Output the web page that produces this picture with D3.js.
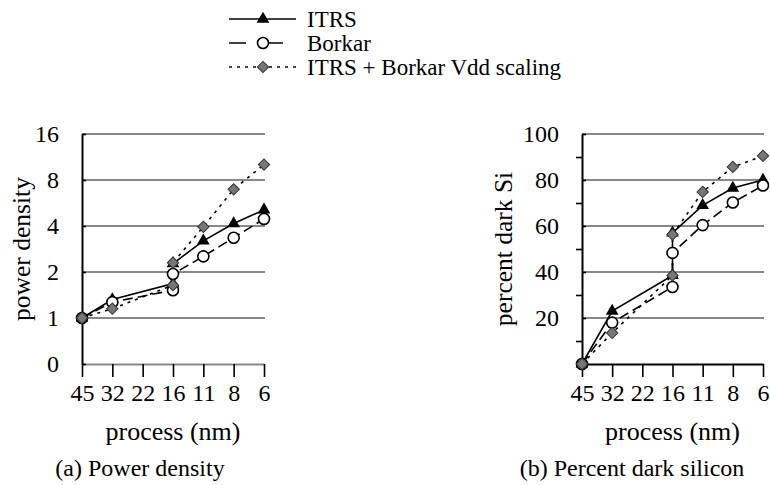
<!DOCTYPE html>
<html>
<head>
<meta charset="utf-8">
<script src="https://cdn.jsdelivr.net/npm/d3@7"></script>
<style>
  body { margin: 0; background: #fff; }
  .tick text { font-size: 24px; fill: #000; }
</style>
</head>
<body>
<svg id="chart" width="770" height="485" font-family="Liberation Serif"></svg>
<script>
// processos (nm) - eixo x
const processos = ["45", "32", "22", "16", "11", "8", "6"];
// cada série tem dois pontos em 16 nm (antes e depois da mudança)
const pontosX = ["45", "32", "16", "16", "11", "8", "6"];

// (a) densidade de potência (escala log2)
const densITRS   = [1, 1.32, 1.68, 2.27, 3.2, 4.15, 5.1];
const densBorkar = [1, 1.27, 1.52, 1.94, 2.53, 3.35, 4.45];
const densAmbos  = [1, 1.15, 1.64, 2.3, 3.95, 6.95, 10.1];
const ticksDens  = [0.5, 1, 2, 4, 8, 16];
const rotulosDens = ["0", "1", "2", "4", "8", "16"];

// (b) percentual de silício escuro
const escuroITRS   = [0, 23, 38.5, 57, 69, 76.5, 80];
const escuroBorkar = [0, 18, 33.5, 48.3, 60.4, 70.2, 77.6];
const escuroAmbos  = [0, 13.5, 38.5, 56.3, 74.8, 85.7, 90.5];
const ticksEscuro  = [20, 40, 60, 80, 100];
const ticksEscuroMenores = [10, 30, 50, 70, 90];

const series = [
  { nome: "ITRS", simbolo: "tri", traco: null, tracoLeg: null },
  { nome: "Borkar", simbolo: "circ", traco: "10,5", tracoLeg: "17,20" },
  { nome: "ITRS + Borkar Vdd scaling", simbolo: "diam", traco: "3,5", tracoLeg: "3,5" },
];

const fonte = "Liberation Serif";
const svg = d3.select("#chart");
const topo = 134, base = 364;

function marcador(sel, tipo) {
  if (tipo === "tri") {
    sel.append("path")
      .attr("d", d3.symbol(d3.symbolTriangle, 70)())
      .attr("fill", "#000");
  } else if (tipo === "circ") {
    sel.append("circle").attr("r", 5.5)
      .attr("fill", "#fff").attr("stroke", "#000").attr("stroke-width", 1.6);
  } else {
    sel.append("path")
      .attr("d", d3.symbol(d3.symbolSquare, 64)())
      .attr("transform", "rotate(45)")
      .attr("fill", "#777").attr("stroke", "#333").attr("stroke-width", 1);
  }
}

function painel(cfg) {
  const g = svg.append("g");
  const x = d3.scalePoint().domain(processos).range([cfg.x0, cfg.x1]);
  const y = cfg.y;

  // linhas de grade
  g.selectAll(".grade").data(cfg.grade).join("line")
    .attr("x1", cfg.x0).attr("x2", cfg.x1 + 1)
    .attr("y1", d => y(d)).attr("y2", d => y(d))
    .attr("stroke", "#888").attr("stroke-width", 2);

  // eixo x
  const ex = g.append("g").attr("transform", `translate(0,${base})`)
    .call(d3.axisBottom(x).tickSizeInner(13).tickSizeOuter(0).tickPadding(7));
  ex.attr("font-family", fonte).attr("font-size", 24);
  ex.select(".domain").attr("stroke", cfg.corEixoX).attr("stroke-width", 2);
  ex.selectAll(".tick line").attr("stroke-width", 1.6);

  // eixo y
  const ey = g.append("g").attr("transform", `translate(${cfg.x0},0)`)
    .call(d3.axisLeft(y).tickValues(cfg.ticks).tickFormat((d, i) => cfg.rotulos[i])
      .tickSizeInner(14).tickSizeOuter(0).tickPadding(9));
  ey.attr("font-family", fonte).attr("font-size", 24);
  ey.select(".domain").attr("stroke-width", 2);
  ey.selectAll(".tick line").attr("x2", 4).attr("stroke-width", 1.6);

  if (cfg.menores) {
    g.append("g").attr("transform", `translate(${cfg.x0},0)`)
      .call(d3.axisLeft(y).tickValues(cfg.menores).tickFormat("").tickSizeInner(6).tickSizeOuter(0))
      .call(s => s.select(".domain").remove())
      .selectAll(".tick line").attr("stroke-width", 1.6);
  }

  // séries
  cfg.valores.forEach((vals, k) => {
    const s = series[k];
    const pts = vals.map((v, i) => [x(pontosX[i]), y(v)]);
    g.append("path").attr("d", d3.line()(pts))
      .attr("fill", "none").attr("stroke", "#000").attr("stroke-width", 1.6)
      .attr("stroke-dasharray", s.traco);
  });
  cfg.valores.forEach((vals, k) => {
    const s = series[k];
    vals.forEach((v, i) => {
      const m = g.append("g").attr("transform", `translate(${x(pontosX[i])},${y(v)})`);
      marcador(m, s.simbolo);
    });
  });

  // títulos
  g.append("text").attr("transform", `translate(${cfg.tituloYx},${(topo + base) / 2}) rotate(-90)`)
    .attr("text-anchor", "middle").attr("font-family", fonte).attr("font-size", 25.5).text(cfg.tituloY);
  g.append("text").attr("x", (cfg.x0 + cfg.x1) / 2).attr("y", 440)
    .attr("text-anchor", "middle").attr("font-family", fonte).attr("font-size", 26).text("process (nm)");
  g.append("text").attr("x", cfg.legendaX).attr("y", 476)
    .attr("text-anchor", "middle").attr("font-family", fonte).attr("font-size", 24).text(cfg.legenda);
}

painel({
  x0: 82, x1: 264,
  y: d3.scaleLog().base(2).domain([0.5, 16]).range([base, topo]),
  ticks: ticksDens, rotulos: rotulosDens, grade: ticksDens.slice(1),
  corEixoX: "#888",
  valores: [densITRS, densBorkar, densAmbos],
  tituloY: "power density", tituloYx: 30,
  legenda: "(a) Power density", legendaX: 140,
});

painel({
  x0: 582, x1: 763,
  y: d3.scaleLinear().domain([0, 100]).range([base, topo]),
  ticks: ticksEscuro, rotulos: ticksEscuro.map(String), grade: ticksEscuro,
  menores: ticksEscuroMenores,
  corEixoX: "#000",
  valores: [escuroITRS, escuroBorkar, escuroAmbos],
  tituloY: "percent dark Si", tituloYx: 512,
  legenda: "(b) Percent dark silicon", legendaX: 632,
});

// legenda
const leg = svg.append("g");
series.forEach((s, i) => {
  const yy = 19 + i * 24;
  const item = leg.append("g").attr("transform", `translate(0,${yy})`);
  item.append("line").attr("x1", 229).attr("x2", 296)
    .attr("stroke", "#000").attr("stroke-width", 1.6).attr("stroke-dasharray", s.tracoLeg);
  marcador(item.append("g").attr("transform", "translate(263,0)"), s.simbolo);
  item.append("text").attr("x", 307).attr("y", 7.5).attr("font-family", fonte)
    .attr("font-size", 23).text(s.nome);
});
</script>
</body>
</html>
